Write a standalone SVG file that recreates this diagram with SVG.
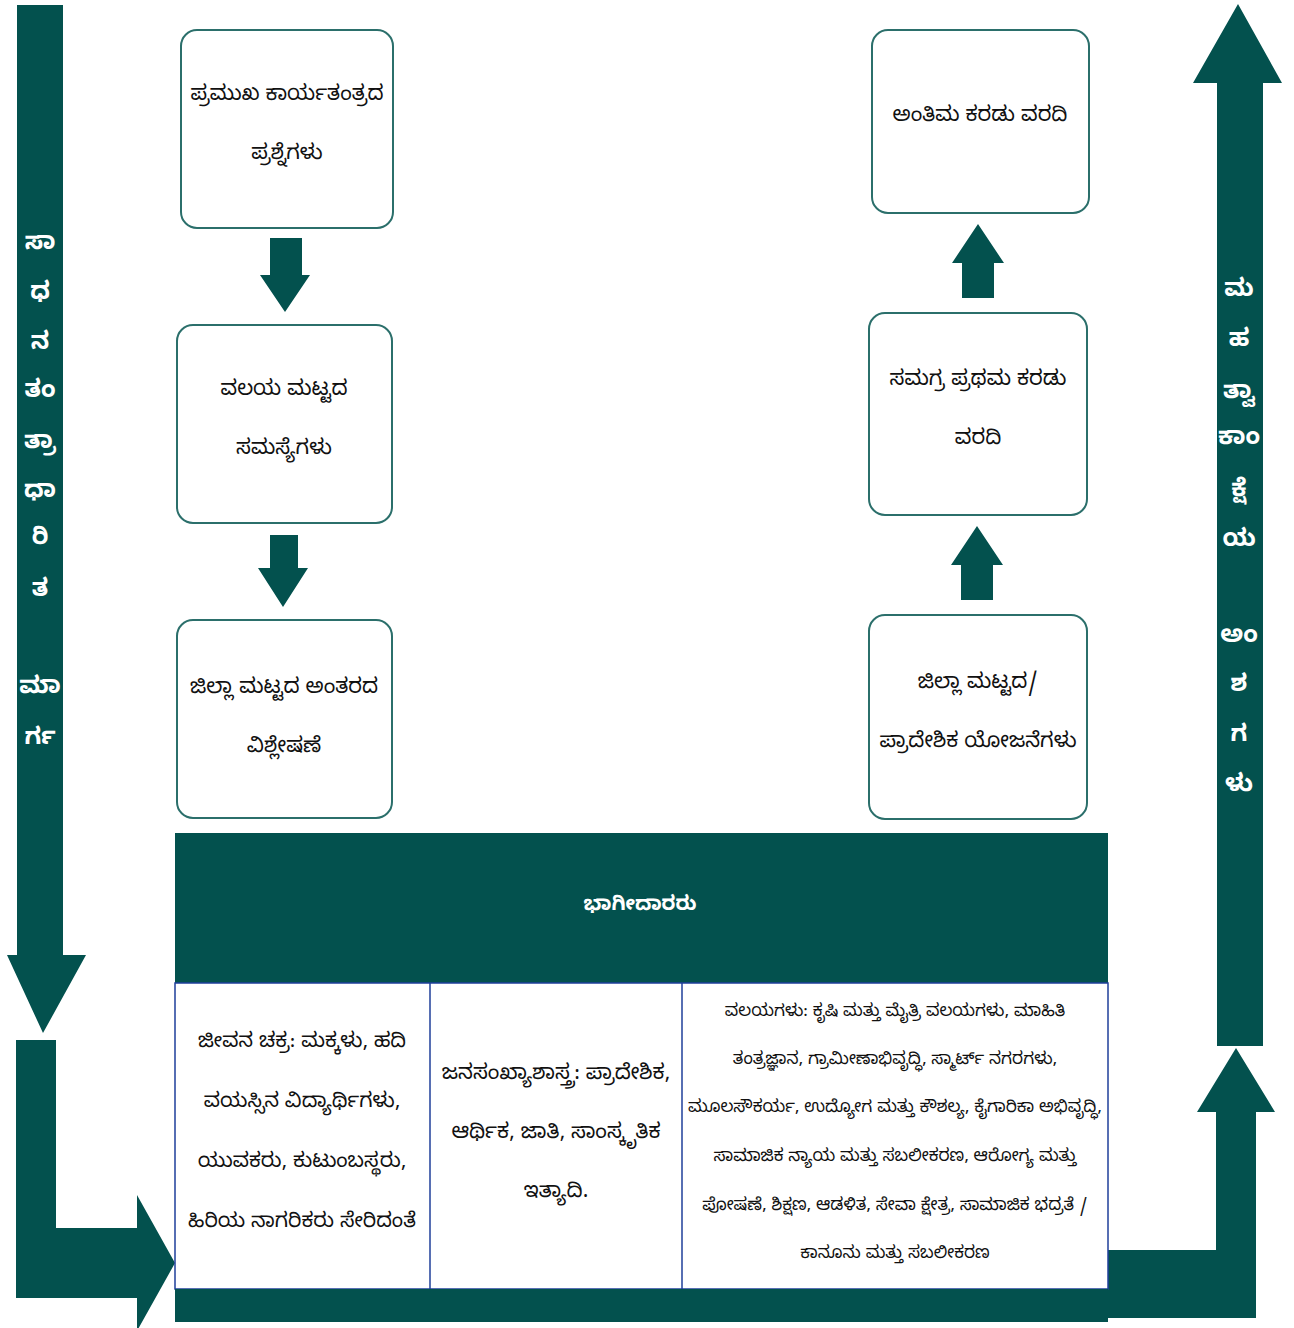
<svg xmlns="http://www.w3.org/2000/svg" width="1294" height="1328" viewBox="0 0 1294 1328">
<style>
text{font-family:"Noto Sans Kannada","Noto Sans","DejaVu Sans",sans-serif;text-anchor:middle;dominant-baseline:central;fill:#111}
.box{fill:#fff;stroke:#2b6f6b;stroke-width:2}
.fill{fill:#03514e}
.bt{font-size:21px}
.side{font-size:24px;fill:#fff;font-weight:bold}
.hdr{font-size:20px;fill:#fff;font-weight:bold}
.c1{font-size:20.5px}
.c2{font-size:21px}
.c3{font-size:17px}
.cell{fill:#fff;stroke:#1f3f9a;stroke-width:1.5}
</style>
<rect width="1294" height="1328" fill="#fff"/>
<g id="connectors">
<polygon class="fill" points="17,5 63,5 63,955 86,955 43,1033 7,955 17,955"/>
<polygon class="fill" points="16,1040 56,1040 56,1228 137,1228 137,1195 175,1263 137,1331 137,1298 16,1298"/>
<polygon class="fill" points="1217,1046 1263,1046 1263,83 1282,83 1238,4 1193,83 1217,83"/>
<polygon class="fill" points="1108,1250 1216,1250 1216,1112 1197,1112 1236,1048 1275,1112 1256,1112 1256,1318 1108,1318"/>
<polygon class="fill" points="270,238 302,238 302,275 310,275 285,312 260,275 270,275"/>
<polygon class="fill" points="270,535 298,535 298,568 308,568 283,607 258,568 270,568"/>
<polygon class="fill" points="962,298 994,298 994,263 1004,263 978,224 952,263 962,263"/>
<polygon class="fill" points="961,600 993,600 993,565 1003,565 977,526 951,565 961,565"/>
<g>
<text x="40" y="246" class="side">ಸಾ</text>
<text x="40" y="296" class="side">ಧ</text>
<text x="40" y="346" class="side">ನ</text>
<text x="40" y="394" class="side">ತಂ</text>
<text x="40" y="445" class="side">ತ್ರಾ</text>
<text x="40" y="494" class="side">ಧಾ</text>
<text x="40" y="541" class="side">ರಿ</text>
<text x="40" y="593" class="side">ತ</text>
<text x="40" y="690" class="side">ಮಾ</text>
<text x="40" y="741" class="side">ರ್ಗ</text>
<text x="1239" y="293" class="side">ಮ</text>
<text x="1239" y="343" class="side">ಹ</text>
<text x="1239" y="395" class="side">ತ್ವಾ</text>
<text x="1239" y="441" class="side">ಕಾಂ</text>
<text x="1239" y="493" class="side">ಕ್ಷೆ</text>
<text x="1239" y="543" class="side">ಯ</text>
<text x="1239" y="639" class="side">ಅಂ</text>
<text x="1239" y="688" class="side">ಶ</text>
<text x="1239" y="738" class="side">ಗ</text>
<text x="1239" y="788" class="side">ಳು</text>
</g>
</g>
<g id="n1"><rect class="box" x="181" y="30" width="212" height="198" rx="16"/>
<text class="bt" x="287" y="97">ಪ್ರಮುಖ ಕಾರ್ಯತಂತ್ರದ</text><text class="bt" x="287" y="156">ಪ್ರಶ್ನೆಗಳು</text></g>
<g id="n2"><rect class="box" x="177" y="325" width="215" height="198" rx="16"/>
<text class="bt" x="284" y="392">ವಲಯ ಮಟ್ಟದ</text><text class="bt" x="284" y="451">ಸಮಸ್ಯೆಗಳು</text></g>
<g id="n3"><rect class="box" x="177" y="620" width="215" height="198" rx="16"/>
<text class="bt" x="284" y="690">ಜಿಲ್ಲಾ ಮಟ್ಟದ ಅಂತರದ</text><text class="bt" x="284" y="749">ವಿಶ್ಲೇಷಣೆ</text></g>
<g id="n4"><rect class="box" x="872" y="30" width="217" height="183" rx="16"/>
<text class="bt" x="980" y="118">ಅಂತಿಮ ಕರಡು ವರದಿ</text></g>
<g id="n5"><rect class="box" x="869" y="313" width="218" height="202" rx="16"/>
<text class="bt" x="978" y="382">ಸಮಗ್ರ ಪ್ರಥಮ ಕರಡು</text><text class="bt" x="978" y="441">ವರದಿ</text></g>
<g id="n6"><rect class="box" x="869" y="615" width="218" height="204" rx="16"/>
<text class="bt" x="978" y="685">ಜಿಲ್ಲಾ ಮಟ್ಟದ/</text><text class="bt" x="978" y="744">ಪ್ರಾದೇಶಿಕ ಯೋಜನೆಗಳು</text></g>
<g id="n7">
<rect class="fill" x="175" y="833" width="933" height="150"/>
<text class="hdr" x="640" y="907">ಭಾಗೀದಾರರು</text>
<rect class="cell" x="175" y="983" width="933" height="306"/>
<line x1="430" y1="983" x2="430" y2="1289" stroke="#1f3f9a" stroke-width="1.5"/>
<line x1="682" y1="983" x2="682" y2="1289" stroke="#1f3f9a" stroke-width="1.5"/>
<rect class="fill" x="175" y="1289" width="933" height="33"/>
</g>
<g id="n8">
<text class="c1" x="302" y="1044">ಜೀವನ ಚಕ್ರ: ಮಕ್ಕಳು, ಹದಿ</text>
<text class="c1" x="302" y="1104">ವಯಸ್ಸಿನ ವಿದ್ಯಾರ್ಥಿಗಳು,</text>
<text class="c1" x="302" y="1164">ಯುವಕರು, ಕುಟುಂಬಸ್ಥರು,</text>
<text class="c1" x="302" y="1224">ಹಿರಿಯ ನಾಗರಿಕರು ಸೇರಿದಂತೆ</text>
</g>
<g id="n9">
<text class="c2" x="556" y="1076">ಜನಸಂಖ್ಯಾಶಾಸ್ತ್ರ: ಪ್ರಾದೇಶಿಕ,</text>
<text class="c2" x="556" y="1135">ಆರ್ಥಿಕ, ಜಾತಿ, ಸಾಂಸ್ಕೃತಿಕ</text>
<text class="c2" x="556" y="1194">ಇತ್ಯಾದಿ.</text>
</g>
<g id="n10">
<text class="c3" x="895" y="1013">ವಲಯಗಳು: ಕೃಷಿ ಮತ್ತು ಮೈತ್ರಿ ವಲಯಗಳು, ಮಾಹಿತಿ</text>
<text class="c3" x="895" y="1061">ತಂತ್ರಜ್ಞಾನ, ಗ್ರಾಮೀಣಾಭಿವೃದ್ಧಿ, ಸ್ಮಾರ್ಟ್ ನಗರಗಳು,</text>
<text class="c3" x="895" y="1109">ಮೂಲಸೌಕರ್ಯ, ಉದ್ಯೋಗ ಮತ್ತು ಕೌಶಲ್ಯ, ಕೈಗಾರಿಕಾ ಅಭಿವೃದ್ಧಿ,</text>
<text class="c3" x="895" y="1158">ಸಾಮಾಜಿಕ ನ್ಯಾಯ ಮತ್ತು ಸಬಲೀಕರಣ, ಆರೋಗ್ಯ ಮತ್ತು</text>
<text class="c3" x="895" y="1207">ಪೋಷಣೆ, ಶಿಕ್ಷಣ, ಆಡಳಿತ, ಸೇವಾ ಕ್ಷೇತ್ರ, ಸಾಮಾಜಿಕ ಭದ್ರತೆ /</text>
<text class="c3" x="895" y="1255">ಕಾನೂನು ಮತ್ತು ಸಬಲೀಕರಣ</text>
</g>
</svg>
